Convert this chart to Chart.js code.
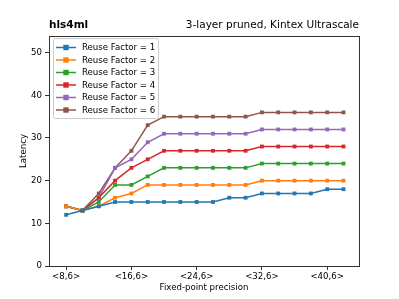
<!DOCTYPE html>
<html><head><meta charset="utf-8">
<script src="https://cdn.jsdelivr.net/npm/chart.js@4.4.0/dist/chart.umd.min.js"></script>
<style>html,body{margin:0;padding:0;background:#fff}#w{width:399px;height:299px}</style>
</head><body><div id="w"><canvas id="c" width="399" height="299"></canvas></div>
<script>
const precisionBits = [8,10,12,14,16,18,20,22,24,26,28,30,32,34,36,38,40,42];
const tickValues = [8,16,24,32,40];
const tickLabels = ['<8,6>','<16,6>','<24,6>','<32,6>','<40,6>'];
const seriesNames = ['Reuse Factor = 1','Reuse Factor = 2','Reuse Factor = 3','Reuse Factor = 4','Reuse Factor = 5','Reuse Factor = 6'];
const rf1 = [12,13,14,15,15,15,15,15,15,15,16,16,17,17,17,17,18,18];
const rf2 = [14,13,14,16,17,19,19,19,19,19,19,19,20,20,20,20,20,20];
const rf3 = [14,13,15,19,19,21,23,23,23,23,23,23,24,24,24,24,24,24];
const rf4 = [14,13,16,20,23,25,27,27,27,27,27,27,28,28,28,28,28,28];
const rf5 = [14,13,16,23,25,29,31,31,31,31,31,31,32,32,32,32,32,32];
const rf6 = [14,13,17,23,27,33,35,35,35,35,35,35,36,36,36,36,36,36];
const colors = ['#1f77b4','#ff7f0e','#2ca02c','#d62728','#9467bd','#8c564b'];
const allSeries = [rf1,rf2,rf3,rf4,rf5,rf6];
const FONT = 'DejaVu Sans';

const datasets = allSeries.map((s,i)=>({
  label: seriesNames[i],
  data: s.map((v,j)=>({x:precisionBits[j], y:v})),
  borderColor: colors[i], backgroundColor: colors[i],
  borderWidth: 1.5, pointStyle: 'rect', pointRadius: 2.7,
  pointBorderWidth: 0, tension: 0
}));

const frame = {
  id:'frame',
  afterDatasetsDraw(chart){
    const {ctx, chartArea:a} = chart;
    ctx.save();
    ctx.strokeStyle='#333'; ctx.lineWidth=1;
    ctx.strokeRect(Math.round(a.left)+0.5, Math.round(a.top)+0.5, Math.round(a.right-a.left), Math.round(a.bottom-a.top));
    ctx.fillStyle='#000'; ctx.textBaseline='middle';
    ctx.font='bold 10.5px "'+FONT+'"'; ctx.textAlign='left';
    ctx.fillText('hls4ml', a.left, 25);
    ctx.font='10.5px "'+FONT+'"'; ctx.textAlign='right';
    ctx.fillText('3-layer pruned, Kintex Ultrascale', a.right, 25);
    const lx=53, ly=38, lw=105, lh=80;
    ctx.beginPath();
    if (ctx.roundRect) ctx.roundRect(lx+0.5,ly+0.5,lw,lh,2); else ctx.rect(lx+0.5,ly+0.5,lw,lh);
    ctx.fillStyle='rgba(255,255,255,0.8)'; ctx.fill();
    ctx.strokeStyle='#cccccc'; ctx.stroke();
    ctx.font='8.6px "'+FONT+'"'; ctx.textAlign='left'; ctx.textBaseline='middle';
    chart.data.datasets.forEach((d,i)=>{
      const y = 47.5 + i*12.5;
      ctx.strokeStyle=d.borderColor; ctx.lineWidth=1.5;
      ctx.beginPath(); ctx.moveTo(56,y); ctx.lineTo(76,y); ctx.stroke();
      ctx.fillStyle=d.borderColor; ctx.fillRect(66-2.7,y-2.7,5.4,5.4);
      ctx.fillStyle='#000'; ctx.fillText(d.label, 82, y+0.5);
    });
    ctx.restore();
  }
};

new Chart(document.getElementById('c'), {
  type:'line',
  data:{datasets},
  options:{
    responsive:false, animation:false, devicePixelRatio:1,
    layout:{padding:{top:36,right:40,left:19,bottom:6}},
    plugins:{legend:{display:false}, tooltip:{enabled:false}},
    scales:{
      x:{type:'linear', min:5.9, max:43.9,
        afterBuildTicks(s){ s.ticks = tickValues.map(v=>({value:v})); },
        afterFit(s){ s.height = 27; },
        ticks:{callback:(v)=>tickLabels[tickValues.indexOf(v)] ?? '', color:'#000', font:{family:FONT,size:8.6}, padding:2, maxRotation:0, autoSkip:false},
        grid:{drawOnChartArea:false, tickLength:4, color:'#333'},
        border:{color:'#333'},
        title:{display:true, text:'Fixed-point precision', color:'#000', font:{family:FONT,size:8.6}, padding:{top:1,bottom:0}}
      },
      y:{min:0, max:53.9,
        afterBuildTicks(s){ s.ticks = [0,10,20,30,40,50].map(v=>({value:v})); },
        afterFit(s){ s.width = 30; },
        ticks:{color:'#000', font:{family:FONT,size:8.6}, padding:3},
        grid:{drawOnChartArea:false, tickLength:4, color:'#333'},
        border:{color:'#333'},
        title:{display:true, text:'Latency', color:'#000', font:{family:FONT,size:8.6}, padding:{top:0,bottom:0}}
      }
    }
  },
  plugins:[frame]
});
</script></body></html>
